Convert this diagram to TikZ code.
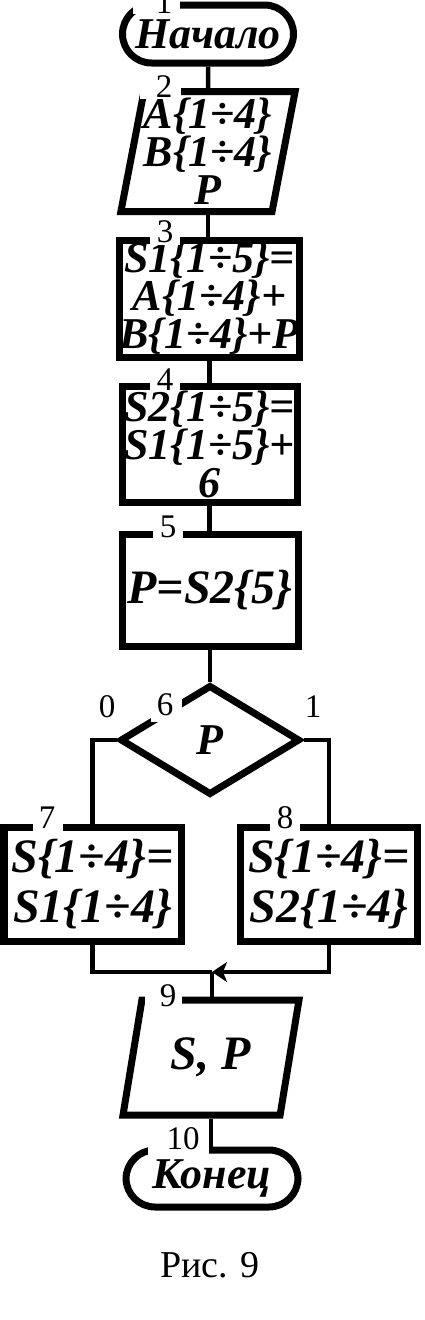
\documentclass[tikz,border=0pt]{standalone}
\usepackage{fontspec}
\setmainfont{Liberation Serif}
\usetikzlibrary{shapes.geometric,arrows.meta}
\begin{document}
\begin{tikzpicture}[x=1pt,y=-1pt,
  shp/.style={draw, line width=7pt, inner sep=0pt, align=center,
    font=\fontsize{44}{38}\selectfont\bfseries\itshape},
  big/.style={font=\fontsize{48}{50}\selectfont\bfseries\itshape},
  term/.style={shp, rectangle, rounded corners=29pt},
  proc/.style={shp, rectangle},
  io/.style={shp, trapezium, trapezium stretches=true},
  dec/.style={shp, diamond},
  lbl/.style={inner sep=0pt, font=\fontsize{33}{33}\selectfont},
  gap/.style={fill=white},
  con/.style={line width=4.5pt},
]
\useasboundingbox (0,0) rectangle (424,1320);
\fill[white] (0,0) rectangle (424,1320);

% blocks
\node[term, minimum width=171pt, minimum height=58pt] (t1) at (208,34) {Начало};
\node[io, minimum width=174pt, minimum height=120pt,
  trapezium left angle=77.8, trapezium right angle=102.2] (b2) at (208,151.5)
  {A\{1÷4\}\\B\{1÷4\}\\P};
\node[proc, minimum width=175pt, minimum height=117pt] (b3) at (209.5,298.5)
  {S1\{1÷5\}=\\A\{1÷4\}+\\B\{1÷4\}+P};
\node[proc, minimum width=175pt, minimum height=116pt] (b4) at (209.5,444)
  {S2\{1÷5\}=\\S1\{1÷5\}+\\6};
\node[proc, big, minimum width=176pt, minimum height=112pt] (b5) at (210,590) {P=S2\{5\}};
\node[dec, minimum width=180pt, minimum height=110pt] (d6) at (210,740) {P};
\node[proc, big, minimum width=177pt, minimum height=114pt] (b7) at (92.5,884)
  {S\{1÷4\}=\\S1\{1÷4\}};
\node[proc, big, minimum width=177pt, minimum height=114pt] (b8) at (329,884)
  {S\{1÷4\}=\\S2\{1÷4\}};
\node[io, big, minimum width=176pt, minimum height=115pt,
  trapezium left angle=74.4, trapezium right angle=105.6] (b9) at (211,1057.5) {S, P};
\node[term, minimum width=172pt, minimum height=57pt] (t10) at (212,1178.5) {Конец};
\node[font=\fontsize{38}{38}\selectfont] (cap) at (210,1265) {Рис. 9};

% connectors
\coordinate (j) at (212,972);
\draw[con] (t1.south) -- (b2.north);
\draw[con] (b2.south) -- (b2.south |- b3.north);
\draw[con] (b3.south) -- (b3.south |- b4.north);
\draw[con] (b4.south) -- (b4.south |- b5.north);
\draw[con] (b5.south) -- (b5.south |- d6.north);
\draw[con] (d6.west) -| (b7.north);
\draw[con] (d6.east) -| (b8.north);
\draw[con] (b7.south) |- (j);
\draw[con, -{Stealth[length=15pt,width=20pt,inset=4pt]}] (b8.south) |- (j);
\draw[con] (j) -- (j |- b9.north);
\draw[con] (b9.south) -- (b9.south |- t10.north);

% gaps in the outlines where the block numbers sit
\fill[gap] (133,-5) rectangle (180,14);
\fill[gap] (140,80) rectangle (181,99);
\fill[gap] (150,235) rectangle (180,245);
\fill[gap] (150,381) rectangle (180,391);
\fill[gap] (153,529) rectangle (183,539);
\fill[gap] (151,696) rectangle (182,722);
\fill[gap] (33,822) rectangle (63,832);
\fill[gap] (270,822) rectangle (300,832);
\fill[gap] (145,990) rectangle (182,1006);
\fill[gap] (148,1143) rectangle (209,1157);

% block numbers
\node[lbl] (n1) at (164,3) {1};
\node[lbl] (n2) at (164,87) {2};
\node[lbl] (n3) at (165,232) {3};
\node[lbl] (n4) at (165,380) {4};
\node[lbl] (n5) at (168,527) {5};
\node[lbl] (n6) at (165,705) {6};
\node[lbl] (n0) at (107,707) {0};
\node[lbl] (n1b) at (313,707) {1};
\node[lbl] (n7) at (47,818) {7};
\node[lbl] (n8) at (285,818) {8};
\node[lbl] (n9) at (168,996) {9};
\node[lbl] (n10) at (183,1139) {10};
\end{tikzpicture}
\end{document}
